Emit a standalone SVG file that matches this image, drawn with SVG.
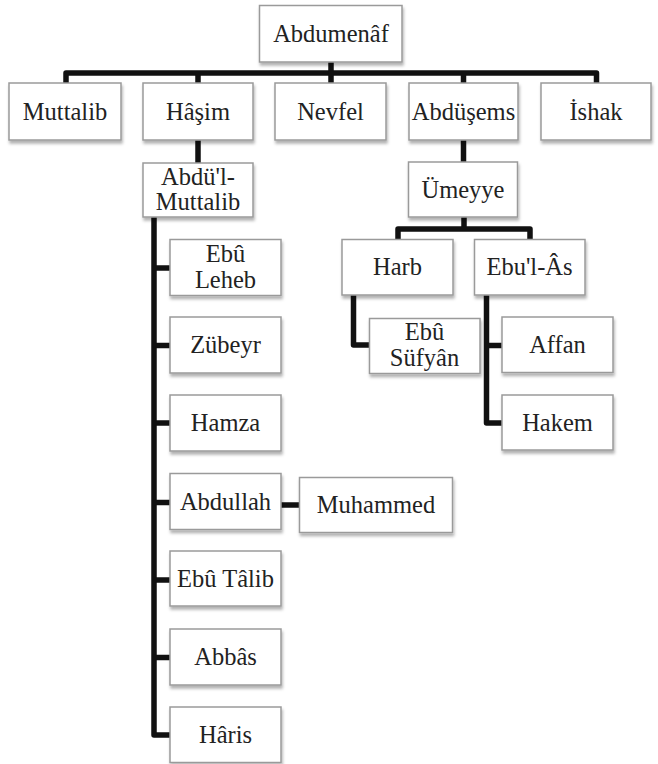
<svg xmlns="http://www.w3.org/2000/svg" width="658" height="764" viewBox="0 0 658 764">
<defs>
<filter id="sh" x="-10%" y="-10%" width="130%" height="140%">
<feDropShadow dx="1" dy="3" stdDeviation="1.5" flood-color="#000" flood-opacity="0.3"/>
</filter>
</defs>
<style>
.b{fill:#fff;stroke:#9a9a9a;stroke-width:1.5;filter:url(#sh)}
.t{font-family:"Liberation Serif","Times New Roman",serif;font-size:24.5px;fill:#222;text-anchor:middle}
.c{fill:none;stroke:#111;stroke-width:5.5;stroke-linejoin:round}
</style>
<rect width="658" height="764" fill="#fff"/>
<g id="connectors">
<path class="c" d="M66,83 V73 H596.5 V83"/>
<path class="c" d="M198,73 V83 M463.5,73 V83 M331,62 V83"/>
<path class="c" d="M198,140 V163"/>
<path class="c" d="M463.5,140 V162"/>
<path class="c" d="M464,217 V229"/>
<path class="c" d="M398,239.5 V229 H530 V239.5"/>
<path class="c" d="M154,217 V735 H170"/>
<path class="c" d="M154,268 H170 M154,345.5 H170 M154,423 H170 M154,502.5 H170 M154,580 H170 M154,657.5 H170"/>
<path class="c" d="M281,505 H299.5"/>
<path class="c" d="M353.5,295 V345 H369.5"/>
<path class="c" d="M486.5,295 V423 H502 M486.5,345.5 H502"/>
</g>
<g id="abdumenaf"><rect class="b" x="259.5" y="5.5" width="142.5" height="56.5"/><text class="t" x="331" y="42">Abdumenâf</text></g>
<g id="muttalib"><rect class="b" x="9" y="83" width="112" height="57"/><text class="t" x="65" y="119.5">Muttalib</text></g>
<g id="hasim"><rect class="b" x="143" y="83" width="110" height="57"/><text class="t" x="198" y="119.5">Hâşim</text></g>
<g id="nevfel"><rect class="b" x="275" y="83" width="111" height="57"/><text class="t" x="330.5" y="119.5">Nevfel</text></g>
<g id="abdusems"><rect class="b" x="409" y="83" width="109" height="57"/><text class="t" x="463.5" y="119.5">Abdüşems</text></g>
<g id="ishak"><rect class="b" x="541" y="83" width="110" height="57"/><text class="t" x="596" y="119.5">İshak</text></g>
<g id="abdulmuttalib"><rect class="b" x="143" y="163" width="110" height="54"/><text class="t" x="198" y="185">Abdü'l-</text><text class="t" x="198" y="209.5">Muttalib</text></g>
<g id="umeyye"><rect class="b" x="408.5" y="162" width="109" height="55"/><text class="t" x="463" y="197.5">Ümeyye</text></g>
<g id="harb"><rect class="b" x="342" y="239.5" width="111" height="55.5"/><text class="t" x="397.5" y="275">Harb</text></g>
<g id="ebulas"><rect class="b" x="474.5" y="239.5" width="110.5" height="55.5"/><text class="t" x="529.5" y="275">Ebu'l-Âs</text></g>
<g id="ebusufyan"><rect class="b" x="369.5" y="318.5" width="110.5" height="55"/><text class="t" x="424.5" y="340">Ebû</text><text class="t" x="424.5" y="365.5">Süfyân</text></g>
<g id="affan"><rect class="b" x="502" y="317" width="111" height="55.5"/><text class="t" x="557.5" y="352.5">Affan</text></g>
<g id="hakem"><rect class="b" x="502" y="395" width="111" height="55"/><text class="t" x="557.5" y="430.5">Hakem</text></g>
<g id="ebuleheb"><rect class="b" x="170" y="239.5" width="111" height="56"/><text class="t" x="225.5" y="262">Ebû</text><text class="t" x="225.5" y="287.5">Leheb</text></g>
<g id="zubeyr"><rect class="b" x="170" y="317" width="111" height="56"/><text class="t" x="225.5" y="353">Zübeyr</text></g>
<g id="hamza"><rect class="b" x="170" y="395" width="111" height="56"/><text class="t" x="225.5" y="431">Hamza</text></g>
<g id="abdullah"><rect class="b" x="170" y="473.5" width="111" height="56"/><text class="t" x="225.5" y="509.5">Abdullah</text></g>
<g id="muhammed"><rect class="b" x="299.5" y="477.5" width="153" height="55"/><text class="t" x="376" y="513">Muhammed</text></g>
<g id="ebutalib"><rect class="b" x="170" y="551" width="111" height="55"/><text class="t" x="225.5" y="586.5">Ebû Tâlib</text></g>
<g id="abbas"><rect class="b" x="170" y="629" width="111" height="56"/><text class="t" x="225.5" y="665">Abbâs</text></g>
<g id="haris"><rect class="b" x="170" y="707" width="111" height="55.5"/><text class="t" x="225.5" y="743">Hâris</text></g>
</svg>
